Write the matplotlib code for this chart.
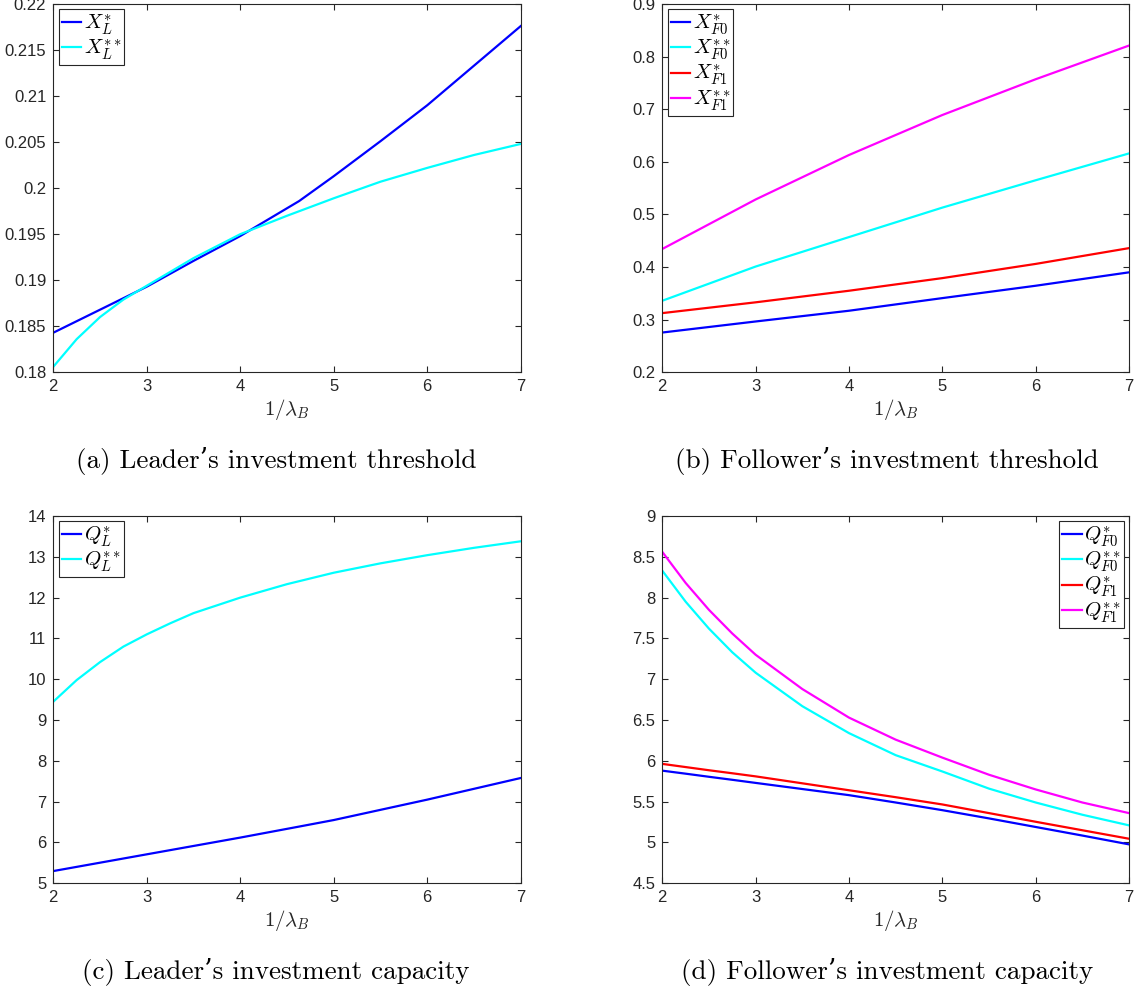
import matplotlib
matplotlib.use('Agg')
import matplotlib.pyplot as plt
import numpy as np

plt.rcParams['mathtext.fontset'] = 'cm'
plt.rcParams['font.family'] = ['Liberation Sans', 'DejaVu Sans']

# (a) leader threshold
x_a = [2, 2.5, 3, 3.5, 4, 4.63, 5, 5.5, 6, 6.5, 7]
XL_s = [0.1843, 0.1868, 0.1893, 0.1921, 0.1948, 0.1986, 0.2013, 0.2051, 0.2090, 0.2133, 0.2176]
x_a2 = [2, 2.25, 2.5, 2.75, 3, 3.5, 4, 4.5, 5, 5.5, 6, 6.5, 7]
XL_ss = [0.1806, 0.1836, 0.1860, 0.1879, 0.1894, 0.1924, 0.1950, 0.1970, 0.1989, 0.2007, 0.2022, 0.2036, 0.2048]

# (b) follower threshold
x_b = [2, 3, 4, 5, 6, 7]
XF0_s = [0.2756, 0.2966, 0.317, 0.341, 0.3645, 0.390]
XF0_ss = [0.336, 0.401, 0.457, 0.513, 0.565, 0.616]
XF1_s = [0.3125, 0.333, 0.355, 0.379, 0.406, 0.436]
XF1_ss = [0.4344, 0.5285, 0.613, 0.689, 0.757, 0.821]

# (c) leader capacity
x_c1 = [2, 3, 4, 4.63, 5, 6, 7]
QL_s = [5.30, 5.71, 6.12, 6.39, 6.55, 7.05, 7.58]
x_c2 = [2, 2.25, 2.5, 2.75, 3, 3.25, 3.5, 4, 4.5, 5, 5.5, 6, 6.5, 7]
QL_ss = [9.45, 9.98, 10.42, 10.80, 11.10, 11.37, 11.62, 12.0, 12.33, 12.61, 12.84, 13.04, 13.22, 13.38]

# (d) follower capacity
x_d = [2, 2.25, 2.5, 2.75, 3, 3.5, 4, 4.5, 5, 5.5, 6, 6.5, 7]
QF0_s = [5.88, 5.843, 5.805, 5.768, 5.73, 5.655, 5.58, 5.49, 5.396, 5.295, 5.19, 5.085, 4.977]
QF0_ss = [8.33, 7.95, 7.62, 7.33, 7.08, 6.67, 6.34, 6.07, 5.87, 5.66, 5.49, 5.34, 5.21]
QF1_s = [5.963, 5.924, 5.885, 5.848, 5.81, 5.725, 5.64, 5.555, 5.466, 5.36, 5.254, 5.15, 5.046]
QF1_ss = [8.56, 8.18, 7.85, 7.56, 7.30, 6.88, 6.53, 6.26, 6.04, 5.83, 5.65, 5.49, 5.36]

captions = ["(a) Leader's investment threshold", "(b) Follower's investment threshold",
            "(c) Leader's investment capacity", "(d) Follower's investment capacity"]

fig = plt.figure(figsize=(11.37, 9.91), dpi=100)
W, H = 1137.0, 991.0


def make_ax(l, r, t, b):
    ax = fig.add_axes([l / W, 1 - b / H, (r - l) / W, (b - t) / H])
    for s in ax.spines.values():
        s.set_color('#262626')
        s.set_linewidth(0.8)
    ax.tick_params(direction='in', top=True, right=True, labelsize=12,
                   colors='#262626', length=4, width=0.8, pad=5)
    ax.set_xlim(2, 7)
    ax.set_xticks([2, 3, 4, 5, 6, 7])
    ax.set_xlabel(r'$1/\lambda_B$', fontsize=15, color='#262626', labelpad=2)
    return ax


def leg(ax, loc):
    l = ax.legend(loc=loc, fontsize=15, handlelength=0.95, handletextpad=0.1,
                  labelspacing=0.05, borderpad=0.15, borderaxespad=0.25,
                  fancybox=False, framealpha=1)
    l.get_frame().set_edgecolor('#262626')
    l.get_frame().set_linewidth(0.8)


lw = 1.6
L, R = (53.3, 520.7), (662.3, 1129)
T, B = (4, 372.3), (516, 883.3)

ax = make_ax(L[0], L[1], T[0], T[1])
ax.plot(x_a, XL_s, color='#0000ff', lw=lw, label=r'$X_L^{*}$')
ax.plot(x_a2, XL_ss, color='#00ffff', lw=lw, label=r'$X_L^{**}$')
ax.set_ylim(0.18, 0.22)
ax.set_yticks(np.arange(0.18, 0.2201, 0.005))
ax.set_yticklabels(['0.18', '0.185', '0.19', '0.195', '0.2', '0.205', '0.21', '0.215', '0.22'])
leg(ax, 'upper left')

ax = make_ax(R[0], R[1], T[0], T[1])
ax.plot(x_b, XF0_s, color='#0000ff', lw=lw, label=r'$X_{F0}^{*}$')
ax.plot(x_b, XF0_ss, color='#00ffff', lw=lw, label=r'$X_{F0}^{**}$')
ax.plot(x_b, XF1_s, color='#ff0000', lw=lw, label=r'$X_{F1}^{*}$')
ax.plot(x_b, XF1_ss, color='#ff00ff', lw=lw, label=r'$X_{F1}^{**}$')
ax.set_ylim(0.2, 0.9)
ax.set_yticks(np.arange(0.2, 0.901, 0.1))
ax.set_yticklabels(['0.2', '0.3', '0.4', '0.5', '0.6', '0.7', '0.8', '0.9'])
leg(ax, 'upper left')

ax = make_ax(L[0], L[1], B[0], B[1])
ax.plot(x_c1, QL_s, color='#0000ff', lw=lw, label=r'$Q_L^{*}$')
ax.plot(x_c2, QL_ss, color='#00ffff', lw=lw, label=r'$Q_L^{**}$')
ax.set_ylim(5, 14)
ax.set_yticks(range(5, 15))
leg(ax, 'upper left')

ax = make_ax(R[0], R[1], B[0], B[1])
ax.plot(x_d, QF0_s, color='#0000ff', lw=lw, label=r'$Q_{F0}^{*}$')
ax.plot(x_d, QF0_ss, color='#00ffff', lw=lw, label=r'$Q_{F0}^{**}$')
ax.plot(x_d, QF1_s, color='#ff0000', lw=lw, label=r'$Q_{F1}^{*}$')
ax.plot(x_d, QF1_ss, color='#ff00ff', lw=lw, label=r'$Q_{F1}^{**}$')
ax.set_ylim(4.5, 9)
ax.set_yticks(np.arange(4.5, 9.01, 0.5))
ax.set_yticklabels(['4.5', '5', '5.5', '6', '6.5', '7', '7.5', '8', '8.5', '9'])
leg(ax, 'upper right')

cap_pos = [(276, 461), (887, 461), (276, 972), (887, 972)]
for (cx, cy), txt in zip(cap_pos, captions):
    fig.text(cx / W, 1 - cy / H, txt.replace("'", "\u2019"), ha='center', va='center',
             fontsize=19.5, family=['cmr10', 'DejaVu Serif'])

fig.savefig('out.png', dpi=100)
